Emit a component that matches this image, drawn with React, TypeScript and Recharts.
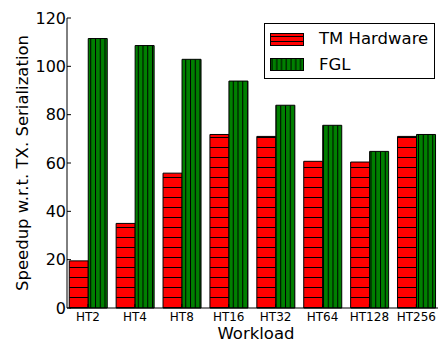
import { BarChart, Bar, XAxis, YAxis, Legend, Label } from 'recharts';

const categories = ['HT2', 'HT4', 'HT8', 'HT16', 'HT32', 'HT64', 'HT128', 'HT256'];
const tmHardware = [19.5, 35, 55.8, 71.8, 71, 60.7, 60.4, 71];
const fgl = [111.5, 108.6, 102.9, 93.9, 83.9, 75.6, 64.8, 71.8];
const yTicks = [0, 20, 40, 60, 80, 100, 120];

const data = categories.map((name, i) => ({ name, tm: tmHardware[i], fgl: fgl[i] }));

const FONT = '"DejaVu Sans", sans-serif';

function HatchDefs() {
  return (
    <defs>
      <pattern id="redHatch" patternUnits="userSpaceOnUse" width="10" height="10">
        <rect width="10" height="10" fill="#ff0000" />
        <line x1="0" y1="7.5" x2="10" y2="7.5" stroke="#000" strokeWidth="1" />
      </pattern>
      <pattern id="greenHatch" patternUnits="userSpaceOnUse" width="4.75" height="10">
        <rect width="4.75" height="10" fill="#008000" />
        <line x1="0.5" y1="0" x2="0.5" y2="10" stroke="#000" strokeWidth="1" />
      </pattern>
    </defs>
  );
}

function LegendBox() {
  const rows = [
    { label: 'TM Hardware', fill: 'url(#redHatchL)' },
    { label: 'FGL', fill: 'url(#greenHatchL)' },
  ];
  return (
    <div
      style={{
        width: 171,
        height: 56,
        border: '1px solid #000',
        background: '#fff',
        boxSizing: 'border-box',
        position: 'relative',
        fontFamily: FONT,
        fontSize: 16.5,
      }}
    >
      <svg width={0} height={0} style={{ position: 'absolute' }}>
        <defs>
          <pattern id="redHatchL" patternUnits="userSpaceOnUse" width="34" height="5">
            <rect width="34" height="5" fill="#ff0000" />
            <line x1="0" y1="3.5" x2="34" y2="3.5" stroke="#000" strokeWidth="1" />
          </pattern>
          <pattern id="greenHatchL" patternUnits="userSpaceOnUse" width="4.75" height="13">
            <rect width="4.75" height="13" fill="#008000" />
            <line x1="2" y1="0" x2="2" y2="13" stroke="#000" strokeWidth="1" />
          </pattern>
        </defs>
      </svg>
      {rows.map((r, i) => (
        <div
          key={r.label}
          style={{ position: 'absolute', left: 5, top: 9 + i * 25.5, height: 13, display: 'flex', alignItems: 'center' }}
        >
          <svg width={35} height={14}>
            <rect x={0.5} y={0.5} width={33} height={12} fill={r.fill} stroke="#000" strokeWidth={1} />
          </svg>
          <span style={{ position: 'absolute', left: 49, top: -4, whiteSpace: 'nowrap', lineHeight: '20px' }}>
            {r.label}
          </span>
        </div>
      ))}
    </div>
  );
}

export default function App() {
  return (
    <div style={{ position: 'absolute', left: 0, top: 0, width: 438, height: 344, overflow: 'hidden', background: '#fff' }}>
      <BarChart
        width={460}
        height={344}
        data={data}
        margin={{ top: 18, right: 20.25, bottom: 0, left: 0 }}
        barCategoryGap="10%"
        barGap={0}
      >
        <HatchDefs />
        <XAxis
          dataKey="name"
          height={36}
          interval={0}
          padding={{ left: -2.45, right: 0 }}
          axisLine={{ stroke: '#000' }}
          tickLine={{ stroke: '#000' }}
          tickSize={-4}
          tickMargin={8}
          tick={{ fontSize: 12, fill: '#000', fontFamily: FONT }}
        >
          <Label
            content={() => (
              <text x={256} y={338.5} textAnchor="middle" fontSize={16.5} fontFamily={FONT} fill="#000">
                Workload
              </text>
            )}
          />
        </XAxis>
        <XAxis
          xAxisId="top"
          dataKey="name"
          orientation="top"
          height={0}
          interval={0}
          padding={{ left: -2.45, right: 0 }}
          axisLine={{ stroke: '#000' }}
          tickLine={{ stroke: '#000' }}
          tickSize={-4}
          tick={false}
        />
        <YAxis
          width={67}
          domain={[0, 120]}
          ticks={yTicks}
          interval={0}
          axisLine={{ stroke: '#000' }}
          tickLine={{ stroke: '#000' }}
          tickSize={-4}
          tickMargin={5}
          tick={{ fontSize: 16, fill: '#000', fontFamily: FONT }}
        >
          <Label
            content={() => (
              <text
                x={28}
                y={163}
                transform="rotate(-90 28 163)"
                textAnchor="middle"
                fontSize={16.5}
                fontFamily={FONT}
                fill="#000"
              >
                Speedup w.r.t. TX. Serialization
              </text>
            )}
          />
        </YAxis>
        <Legend
          layout="vertical"
          align="center"
          verticalAlign="middle"
          wrapperStyle={{ position: 'absolute', left: 264, top: 23, width: 171, height: 56 }}
          content={() => <LegendBox />}
        />
        <Bar dataKey="tm" name="TM Hardware" fill="url(#redHatch)" stroke="#000" strokeWidth={1} isAnimationActive={false} />
        <Bar dataKey="fgl" name="FGL" fill="url(#greenHatch)" stroke="#000" strokeWidth={1} isAnimationActive={false} />
      </BarChart>
    </div>
  );
}
